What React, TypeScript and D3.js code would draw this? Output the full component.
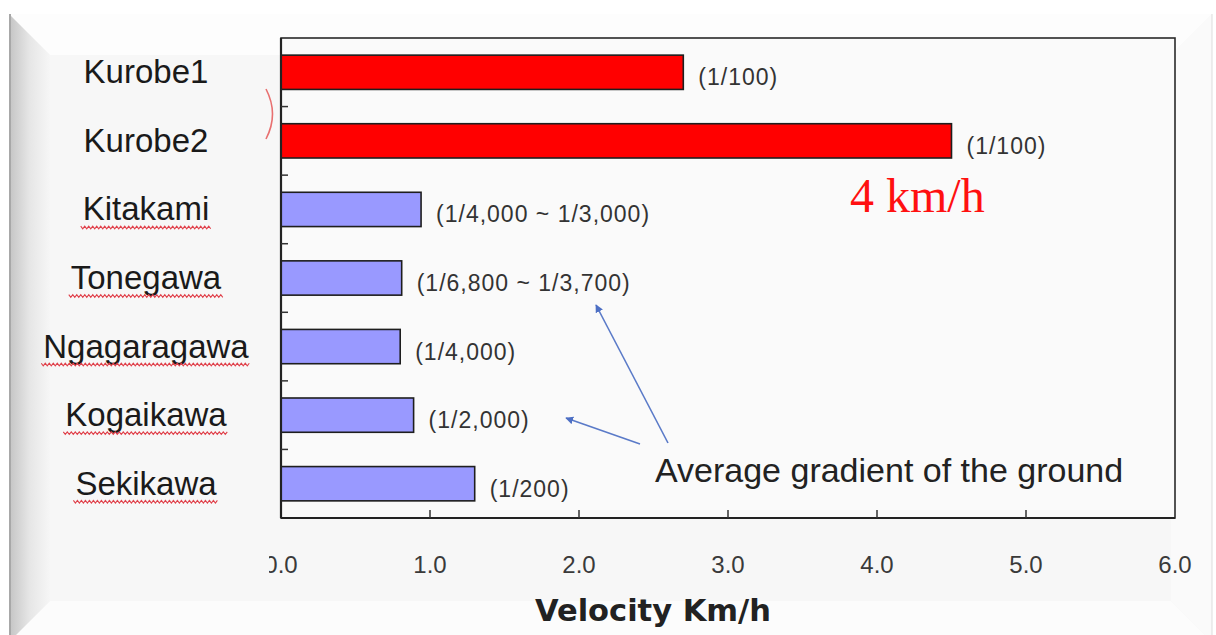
import React, { useEffect, useRef } from "react";
import * as d3 from "d3";

const categories = ["Kurobe1", "Kurobe2", "Kitakami", "Tonegawa", "Ngagaragawa", "Kogaikawa", "Sekikawa"];
const velocities = [2.7, 4.5, 0.94, 0.81, 0.8, 0.89, 1.3];
const gradients = ["(1/100)", "(1/100)", "(1/4,000 ~ 1/3,000)", "(1/6,800 ~ 1/3,700)", "(1/4,000)", "(1/2,000)", "(1/200)"];
const highlighted = [true, true, false, false, false, false, false];
const underlined = [false, false, true, true, true, true, true];
const xTicks = [0, 1, 2, 3, 4, 5, 6];
const xTickLabels = ["0.0", "1.0", "2.0", "3.0", "4.0", "5.0", "6.0"];
const annotation = "Average gradient of the ground";
const highlightNote = "4 km/h";
const xTitle = "Velocity Km/h";

const W = 1216;
const H = 635;

export default function App() {
  const ref = useRef<SVGSVGElement | null>(null);

  useEffect(() => {
    const svg = d3.select(ref.current);
    svg.selectAll("*").remove();

    const left = 281, right = 1175, top = 38, bottom = 518;
    const x = d3.scaleLinear().domain([0, 6]).range([left, right]);
    const y = d3.scaleBand<string>().domain(categories).range([top, bottom]).paddingInner(0.5).paddingOuter(0.25);

    const defs = svg.append("defs");
    const lg = defs.append("linearGradient").attr("id", "leftBevel").attr("x1", "0").attr("x2", "1").attr("y1", "0").attr("y2", "0");
    lg.append("stop").attr("offset", "0").attr("stop-color", "#c4c4c4");
    lg.append("stop").attr("offset", "0.5").attr("stop-color", "#e6e6e6");
    lg.append("stop").attr("offset", "1").attr("stop-color", "#f6f6f6");
    defs.append("clipPath").attr("id", "zeroClip").append("rect").attr("x", 269).attr("y", 530).attr("width", 60).attr("height", 60);
    const mk = defs.append("marker").attr("id", "arrowHead").attr("viewBox", "0 0 10 10").attr("refX", 9).attr("refY", 5)
      .attr("markerWidth", 8).attr("markerHeight", 8).attr("markerUnits", "userSpaceOnUse").attr("orient", "auto");
    mk.append("path").attr("d", "M0,0 L10,5 L0,10 Z").attr("fill", "#4d6fc4");

    // background frame
    svg.append("rect").attr("width", W).attr("height", H).attr("fill", "#ffffff");
    const L0 = 9, T0 = 14, R0 = 1212, B0 = 642, inset = 41;
    svg.append("rect").attr("x", L0).attr("y", T0).attr("width", R0 - L0).attr("height", B0 - T0).attr("fill", "#f7f7f7");
    svg.append("polygon").attr("points", `${L0},${T0} ${R0},${T0} ${R0 - inset},${T0 + inset} ${L0 + inset},${T0 + inset}`).attr("fill", "#fdfdfd");
    svg.append("polygon").attr("points", `${L0},${B0} ${L0 + inset},${B0 - inset} ${R0 - inset},${B0 - inset} ${R0},${B0}`).attr("fill", "#fcfcfc");
    svg.append("polygon").attr("points", `${R0},${T0} ${R0},${B0} ${R0 - inset},${B0 - inset} ${R0 - inset},${T0 + inset}`).attr("fill", "#fafafa");
    svg.append("polygon").attr("points", `${L0},${T0} ${L0 + inset},${T0 + inset} ${L0 + inset},${B0 - inset} ${L0},${B0}`).attr("fill", "url(#leftBevel)");
    svg.append("line").attr("x1", L0 + 1).attr("x2", L0 + 1).attr("y1", T0).attr("y2", H).attr("stroke", "#a8a8a8").attr("stroke-width", 2);
    svg.append("line").attr("x1", R0).attr("x2", R0).attr("y1", T0).attr("y2", H).attr("stroke", "#dddddd").attr("stroke-width", 1);

    // plot area
    svg.append("rect").attr("x", left).attr("y", top).attr("width", right - left).attr("height", bottom - top).attr("fill", "#fafafa");

    // bars
    svg.append("g").selectAll("rect").data(categories).join("rect")
      .attr("x", x(0))
      .attr("y", (d) => y(d)!)
      .attr("width", (d, i) => x(velocities[i]) - x(0))
      .attr("height", y.bandwidth())
      .attr("fill", (d, i) => (highlighted[i] ? "#ff0000" : "#9999ff"))
      .attr("stroke", "#1e1e1e")
      .attr("stroke-width", 1.6);

    // frame
    svg.append("rect").attr("x", left).attr("y", top).attr("width", right - left).attr("height", bottom - top)
      .attr("fill", "none").attr("stroke", "#2a2a2a").attr("stroke-width", 1.6);
    svg.append("line").attr("x1", left).attr("x2", right).attr("y1", bottom).attr("y2", bottom).attr("stroke", "#222").attr("stroke-width", 2.2);
    svg.append("line").attr("x1", left).attr("x2", left).attr("y1", top).attr("y2", bottom).attr("stroke", "#222").attr("stroke-width", 2.2);

    // y ticks at category boundaries
    const step = y.step();
    const boundaries = categories.slice(1).map((c) => y(c)! - (step - y.bandwidth()) / 2);
    svg.append("g").selectAll("line").data(boundaries).join("line")
      .attr("x1", left).attr("x2", left + 7).attr("y1", (d) => d).attr("y2", (d) => d)
      .attr("stroke", "#333").attr("stroke-width", 1.5);

    // x ticks
    svg.append("g").selectAll("line").data(xTicks.slice(1, -1)).join("line")
      .attr("x1", (d) => x(d)).attr("x2", (d) => x(d)).attr("y1", bottom).attr("y2", bottom - 8)
      .attr("stroke", "#333").attr("stroke-width", 1.5);

    svg.append("g").selectAll("text").data(xTicks).join("text")
      .attr("x", (d) => x(d)).attr("y", 573)
      .attr("text-anchor", "middle")
      .attr("font-family", "'Liberation Sans', Arial, sans-serif")
      .attr("font-size", 24)
      .attr("fill", "#3a3a3a")
      .attr("clip-path", (d, i) => (i === 0 ? "url(#zeroClip)" : null))
      .text((d, i) => xTickLabels[i]);

    // category labels
    const catG = svg.append("g");
    const cx = 146;
    categories.forEach((c, i) => {
      const cy = y(c)! + y.bandwidth() / 2;
      const t = catG.append("text")
        .attr("x", cx).attr("y", cy + 11)
        .attr("text-anchor", "middle")
        .attr("font-family", "'Liberation Sans', Arial, sans-serif")
        .attr("font-size", 33)
        .attr("fill", "#1a1a1a")
        .text(c);
      if (underlined[i]) {
        const len = (t.node() as SVGTextElement).getComputedTextLength();
        const x0 = cx - len / 2 - 2;
        const x1 = cx + len / 2 + 2;
        const yy = cy + 18;
        const pts: [number, number][] = [];
        let k = 0;
        for (let px = x0; px <= x1; px += 2) {
          pts.push([px, yy + (k % 2 === 0 ? -1.3 : 1.3)]);
          k++;
        }
        catG.append("path").attr("d", d3.line()(pts)!).attr("fill", "none").attr("stroke", "#e0404a").attr("stroke-width", 1.1);
      }
    });

    // gradient labels
    svg.append("g").selectAll("text").data(categories).join("text")
      .attr("x", (d, i) => x(velocities[i]) + 15)
      .attr("y", (d) => y(d)! + y.bandwidth() / 2 + 13)
      .attr("font-family", "'Liberation Sans', Arial, sans-serif")
      .attr("font-size", 23)
      .attr("letter-spacing", 1)
      .attr("fill", "#333")
      .text((d, i) => gradients[i]);

    // 4 km/h note
    svg.append("text").attr("x", 850).attr("y", 212)
      .attr("font-family", "'Liberation Serif', 'Times New Roman', serif")
      .attr("font-size", 48).attr("fill", "#ff1010").text(highlightNote);

    // red bracket
    svg.append("path").attr("d", "M266,89 Q279,114 266,139").attr("fill", "none").attr("stroke", "#e87070").attr("stroke-width", 1.6);

    // annotation text
    svg.append("text").attr("x", 655).attr("y", 482)
      .attr("font-family", "'Liberation Sans', Arial, sans-serif")
      .attr("font-size", 34).attr("fill", "#222").text(annotation);

    // arrows
    svg.append("line").attr("x1", 668).attr("y1", 443).attr("x2", 596).attr("y2", 305)
      .attr("stroke", "#5a7ac8").attr("stroke-width", 1.6).attr("marker-end", "url(#arrowHead)");
    svg.append("line").attr("x1", 640).attr("y1", 444).attr("x2", 566).attr("y2", 418)
      .attr("stroke", "#5a7ac8").attr("stroke-width", 1.6).attr("marker-end", "url(#arrowHead)");

    // x title
    svg.append("text").attr("x", 653).attr("y", 621)
      .attr("text-anchor", "middle")
      .attr("font-family", "'DejaVu Sans', Verdana, sans-serif")
      .attr("font-weight", "bold")
      .attr("font-size", 30.5).attr("fill", "#222").text(xTitle);
  }, []);

  return (
    <div style={{ position: "absolute", left: 0, top: 0, width: W, height: H, overflow: "hidden" }}>
      <svg ref={ref} width={W} height={H} style={{ display: "block" }} />
    </div>
  );
}
